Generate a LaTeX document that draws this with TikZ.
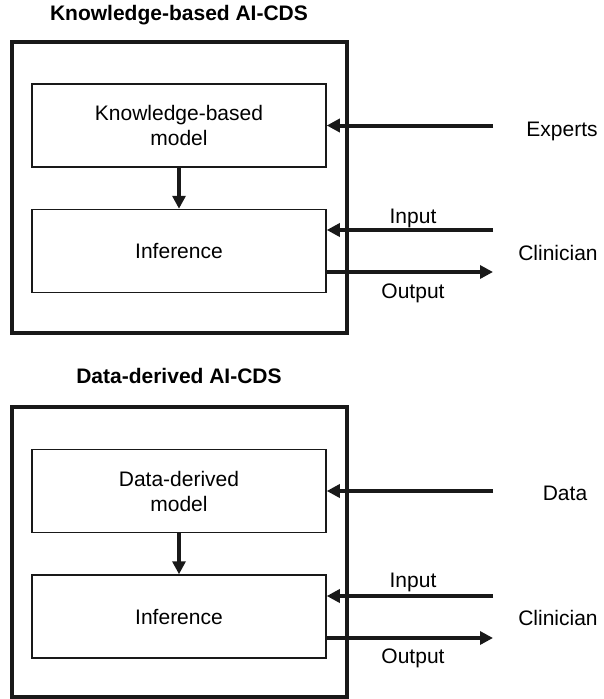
\documentclass[tikz,border=0pt]{standalone}
\usepackage{fontspec}
\setmainfont{Liberation Sans}
\usetikzlibrary{arrows.meta}
\tikzset{
  outerbox/.style={draw=black!90, line width=4pt, rectangle, inner sep=0pt, minimum width=335pt},
  innerbox/.style={draw=black!90, line width=1.5pt, rectangle, inner sep=0pt, minimum width=294pt, minimum height=83pt, align=center, font=\fontsize{21}{25}\selectfont},
  title/.style={font=\fontsize{21}{25}\selectfont\bfseries, inner sep=0pt},
  lbl/.style={font=\fontsize{21}{25}\selectfont, inner sep=0pt, anchor=base},
  arr/.style={draw=black!90, line width=4pt, -{Triangle[length=13pt,width=13pt]}, shorten >=0pt}
}
\begin{document}
\begin{tikzpicture}[x=1pt,y=-1pt]
\useasboundingbox (0,0) rectangle (604,699);
% ---------- top panel ----------
\node[title] (titleA) at (179,15) {Knowledge-based AI-CDS};
\node[outerbox, minimum height=291pt] (outerA) at (179.5,187.5) {};
\node[innerbox] (kmodel) at (179,125.5) {Knowledge-based\\model};
\node[innerbox] (infA) at (179,251) {Inference};
\draw[arr] (kmodel.south) -- (infA.north);
\coordinate (expA) at (493,125.5);
\coordinate (inA) at (493,230);
\coordinate (outA) at (493,272);
\draw[arr] (expA) -- (kmodel.east |- expA);
\draw[arr] (inA) -- (infA.east |- inA);
\draw[arr] (infA.east |- outA) -- (outA);
\node[lbl] (lexp) at (562,136) {Experts};
\node[lbl] (lclinA) at (558,260) {Clinician};
\node[lbl] (linA) at (413,223) {Input};
\node[lbl] (loutA) at (413,298) {Output};
% ---------- bottom panel ----------
\node[title] (titleB) at (179,376) {Data-derived AI-CDS};
\node[outerbox, minimum height=290pt] (outerB) at (179.5,552) {};
\node[innerbox] (dmodel) at (179,491) {Data-derived\\model};
\node[innerbox] (infB) at (179,616.5) {Inference};
\draw[arr] (dmodel.south) -- (infB.north);
\coordinate (datB) at (493,491);
\coordinate (inB) at (493,596);
\coordinate (outB) at (493,638);
\draw[arr] (datB) -- (dmodel.east |- datB);
\draw[arr] (inB) -- (infB.east |- inB);
\draw[arr] (infB.east |- outB) -- (outB);
\node[lbl] (ldata) at (565,500) {Data};
\node[lbl] (lclinB) at (558,625) {Clinician};
\node[lbl] (linB) at (413,587) {Input};
\node[lbl] (loutB) at (413,663) {Output};
\end{tikzpicture}
\end{document}
